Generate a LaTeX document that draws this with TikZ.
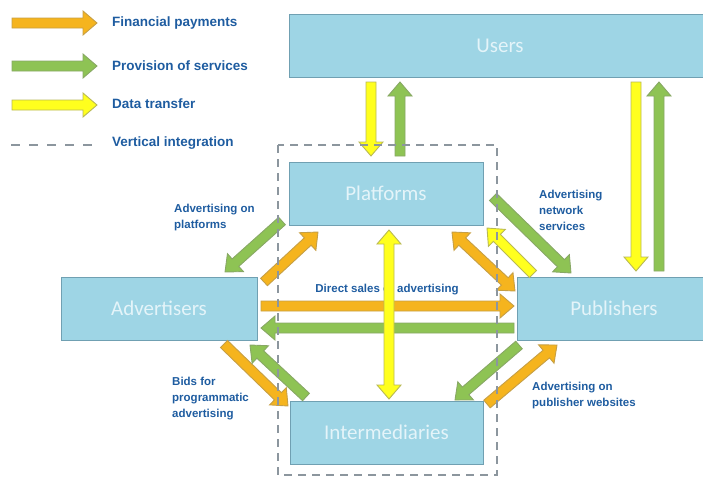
\documentclass[tikz,border=0pt]{standalone}
\usepackage{fontspec}
\setmainfont{Liberation Sans}
\newfontfamily\boxfont{Carlito}
\usetikzlibrary{calc}

\definecolor{boxfill}{RGB}{158,213,229}
\definecolor{boxline}{RGB}{112,160,178}
\definecolor{boxtext}{RGB}{228,244,249}
\definecolor{lbltext}{RGB}{30,92,160}
\definecolor{payorange}{RGB}{245,180,30}
\definecolor{servgreen}{RGB}{142,195,84}
\definecolor{datayellow}{RGB}{255,255,30}
\definecolor{vintgray}{RGB}{140,150,158}

\tikzset{
  box/.style={draw=boxline, line width=1pt, fill=boxfill, inner sep=0pt,
    minimum height=63pt, font=\boxfont\fontsize{21}{24}\selectfont, text=boxtext},
  lbl/.style={inner sep=0pt, align=left, text=lbltext,
    font=\bfseries\fontsize{11.5}{16}\selectfont},
  legend/.style={inner sep=0pt, anchor=west, text=lbltext,
    font=\bfseries\fontsize{13.5}{16}\selectfont},
  pay/.style={fill=payorange, draw=payorange!60!gray},
  serv/.style={fill=servgreen, draw=servgreen!60!gray},
  data/.style={fill=datayellow, draw=datayellow!45!gray},
}

% fat arrow from #2 to #3
\newcommand{\fatarrow}[3]{%
  \draw[line width=0.9pt, line join=miter, #1] let \p1=(#2), \p2=(#3),
      \n1={atan2(\y2-\y1,\x2-\x1)}, \n2={veclen(\x2-\x1,\y2-\y1)} in
    {[shift={(\p1)}, rotate=\n1]
      (0pt,-5pt) -- (\n2-14pt,-5pt) -- (\n2-14pt,-12pt) -- (\n2,0pt)
      -- (\n2-14pt,12pt) -- (\n2-14pt,5pt) -- (0pt,5pt) -- cycle};}
% same, with a head at both ends
\newcommand{\fatdarrow}[3]{%
  \draw[line width=0.9pt, line join=miter, #1] let \p1=(#2), \p2=(#3),
      \n1={atan2(\y2-\y1,\x2-\x1)}, \n2={veclen(\x2-\x1,\y2-\y1)} in
    {[shift={(\p1)}, rotate=\n1]
      (0pt,0pt) -- (14pt,-12pt) -- (14pt,-5pt) -- (\n2-14pt,-5pt) -- (\n2-14pt,-12pt)
      -- (\n2,0pt) -- (\n2-14pt,12pt) -- (\n2-14pt,5pt) -- (14pt,5pt) -- (14pt,12pt) -- cycle};}

\begin{document}
\begin{tikzpicture}[x=1pt, y=-1pt]
  \useasboundingbox (0,0) rectangle (703,477);
  \clip (0,0) rectangle (703,477);

  % legend
  \coordinate (lg1a) at (12,23);  \coordinate (lg1b) at (97,23);
  \coordinate (lg2a) at (12,66);  \coordinate (lg2b) at (97,66);
  \coordinate (lg3a) at (12,105); \coordinate (lg3b) at (97,105);
  \coordinate (lg4a) at (11,145); \coordinate (lg4b) at (97,145);
  \fatarrow{pay}{lg1a}{lg1b}
  \fatarrow{serv}{lg2a}{lg2b}
  \fatarrow{data}{lg3a}{lg3b}
  \draw[vintgray, line width=1.6pt, dash pattern=on 9pt off 9pt] (lg4a) -- (lg4b);
  \node[legend] (lgpay) at (112,23) {Financial payments};
  \node[legend] (lgserv) at (112,66) {Provision of services};
  \node[legend] (lgdata) at (112,104) {Data transfer};
  \node[legend] (lgvint) at (112,143) {Vertical integration};

  % market players
  \node[box, minimum width=422pt] (users) at (500,45.5) {Users};
  \node[box, minimum width=194pt] (plat) at (386,193.5) {Platforms};
  \node[box, minimum width=196pt] (adv) at (159,308.5) {Advertisers};
  \node[box, minimum width=194pt] (pub) at (614,308.5) {Publishers};
  \node[box, minimum width=193pt] (inter) at (386.5,432.5) {Intermediaries};

  % flow labels
  \node[lbl, anchor=north west] (advplat) at (174,204) {Advertising on\\platforms};
  \node[lbl, anchor=north west] (bids) at (172,377) {Bids for\\programmatic\\advertising};
  \node[lbl, anchor=north west] (netserv) at (539,190) {Advertising\\network\\services};
  \node[lbl, anchor=north west] (advpub) at (532,382) {Advertising on\\publisher websites};
  \node[lbl] (direct) at (387,290) {Direct sales of advertising};

  % arrow ends
  \coordinate (up1) at (371,82);   \coordinate (up2) at (371,156);
  \coordinate (up3) at (400,156);  \coordinate (up4) at (400,82);
  \coordinate (ur1) at (636,82);   \coordinate (ur2) at (636,271);
  \coordinate (ur3) at (659,271);  \coordinate (ur4) at (659,82);
  \coordinate (ap1) at (261,306);  \coordinate (ap2) at (514,306);
  \coordinate (ap3) at (514,328);  \coordinate (ap4) at (261,328);
  \coordinate (pi1) at (389,230);  \coordinate (pi2) at (389,399);
  \coordinate (pa1) at (282,221);  \coordinate (pa2) at (225,272);
  \coordinate (pa3) at (264,282);  \coordinate (pa4) at (318,232);
  \coordinate (ai1) at (224,344);  \coordinate (ai2) at (288,406);
  \coordinate (ai3) at (306,397);  \coordinate (ai4) at (250,345);
  \coordinate (pp1) at (452,232);  \coordinate (pp2) at (515,291);
  \coordinate (pp3) at (533,274);  \coordinate (pp4) at (487,228);
  \coordinate (pp5) at (493,197);  \coordinate (pp6) at (571,273);
  \coordinate (ip1) at (519,345);  \coordinate (ip2) at (455,400);
  \coordinate (ip3) at (487,404);  \coordinate (ip4) at (557,345);

  % flows
  \fatarrow{data}{up1}{up2}
  \fatarrow{serv}{up3}{up4}
  \fatarrow{data}{ur1}{ur2}
  \fatarrow{serv}{ur3}{ur4}
  \fatarrow{pay}{ap1}{ap2}
  \fatarrow{serv}{ap3}{ap4}
  \fatdarrow{data}{pi1}{pi2}
  \fatarrow{serv}{pa1}{pa2}
  \fatarrow{pay}{pa3}{pa4}
  \fatarrow{pay}{ai1}{ai2}
  \fatarrow{serv}{ai3}{ai4}
  \fatdarrow{pay}{pp1}{pp2}
  \fatarrow{data}{pp3}{pp4}
  \fatarrow{serv}{pp5}{pp6}
  \fatarrow{serv}{ip1}{ip2}
  \fatarrow{pay}{ip3}{ip4}

  % vertical integration
  \draw[vintgray, line width=1.6pt, dash pattern=on 8pt off 6pt] (278,145) rectangle (497,475);
\end{tikzpicture}
\end{document}
